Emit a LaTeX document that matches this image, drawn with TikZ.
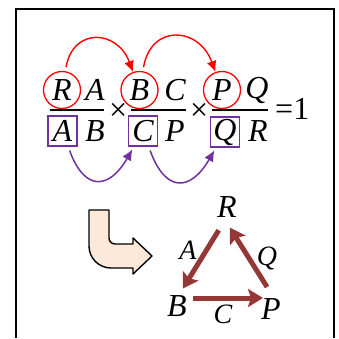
\documentclass[tikz,border=0pt]{standalone}
\usepackage{fontspec}
\setmainfont{Liberation Serif}
\usepackage{tikz}
\usetikzlibrary{arrows.meta,positioning}
\definecolor{boxpurple}{HTML}{7030A0}
\definecolor{brickred}{HTML}{953735}
\definecolor{peach}{HTML}{FDE9D9}
\tikzset{
  ltr/.style={font=\fontsize{32}{34}\selectfont\itshape, inner sep=0pt},
  sml/.style={font=\fontsize{28}{30}\selectfont\itshape, inner sep=0pt},
  rcirc/.style={ltr, circle, draw=red, line width=1.3pt, minimum size=37pt},
  pbox/.style={ltr, rectangle, draw=boxpurple, line width=1.5pt,
               minimum width=29pt, minimum height=30pt},
  redarr/.style={-{Latex[length=11pt,width=10pt]}, draw=red, line width=1.4pt},
  purarr/.style={-{Latex[length=11pt,width=10pt]}, draw=boxpurple, line width=1.5pt},
  triarr/.style={-{Stealth[length=15pt,width=18pt,inset=3pt]}, draw=brickred, line width=5pt},
  bent/.style={draw=black, fill=peach, line width=1.4pt, line join=round},
}

\begin{document}
\begin{tikzpicture}[x=1pt, y=1pt]
\useasboundingbox (0,0) rectangle (339,338);
% frame
\draw[line width=1.8pt] (16,0) -- (16,329) -- (334,329) -- (334,0);

% the product of ratios
\node[rcirc] (nR) at (62,248) {R};
\node[ltr] (nA) at (95,248) {A};
\node[pbox] (dA) at (62.5,207) {A};
\node[ltr] (dB) at (95,207) {B};
\draw[line width=1.3pt] (50,228) -- (104,228);
\node[ltr] (x1) at (118,226) {×};

\node[rcirc] (nB) at (139.5,248) {B};
\node[ltr] (nC) at (175,248) {C};
\node[pbox] (dC) at (143,207) {C};
\node[ltr] (dP) at (175,207) {P};
\draw[line width=1.3pt] (131,228) -- (186,228);
\node[ltr] (x2) at (199,226) {×};

\node[rcirc] (nP) at (222,248) {P};
\node[ltr] (nQ) at (257,248) {Q};
\node[pbox] (dQ) at (225,206) {Q};
\node[ltr] (dR) at (258,207) {R};
\draw[line width=1.3pt] (212,228) -- (268,228);
\node[ltr, font=\fontsize{32}{34}\selectfont, anchor=base west] (eq) at (275,219) {=1};

% linking arrows
\draw[redarr, shorten <=4pt] (nR) to[out=80, in=110, looseness=1.7] (nB);
\draw[redarr, shorten <=4pt] (nB) to[out=80, in=110, looseness=1.7] (nP);
\draw[purarr, shorten <=4pt, shorten >=3pt] (dA) to[out=-70, in=-120, looseness=1.9] (dC);
\draw[purarr, shorten <=4pt, shorten >=3pt] (dC) to[out=-70, in=-120, looseness=1.9] (dQ);

% bent block arrow
\draw[bent] (89,128) -- (109,128) -- (109,100) arc[start angle=180, end angle=270, radius=6]
  -- (133,94) -- (133,100) -- (152,82) -- (133,64) -- (133,70) -- (111,70)
  arc[start angle=270, end angle=180, radius=22] -- cycle;

% triangle
\coordinate (cR) at (225,118);
\coordinate (cB) at (177,40);
\coordinate (cP) at (274,40);
\node[ltr] (tR) at (227,131) {R};
\node[ltr] (tB) at (177,32) {B};
\node[ltr] (tP) at (271,29) {P};
\draw[triarr, shorten <=12pt, shorten >=11pt] (cR) -- (cB);
\draw[triarr, shorten <=16pt, shorten >=11pt] (cB) -- (cP);
\draw[triarr, shorten <=13pt, shorten >=9pt] (cP) -- (cR);
\node[sml] (lA) at (188,88) {A};
\node[sml] (lC) at (223,24) {C};
\node[sml] (lQ) at (267,80) {Q};
\end{tikzpicture}
\end{document}
